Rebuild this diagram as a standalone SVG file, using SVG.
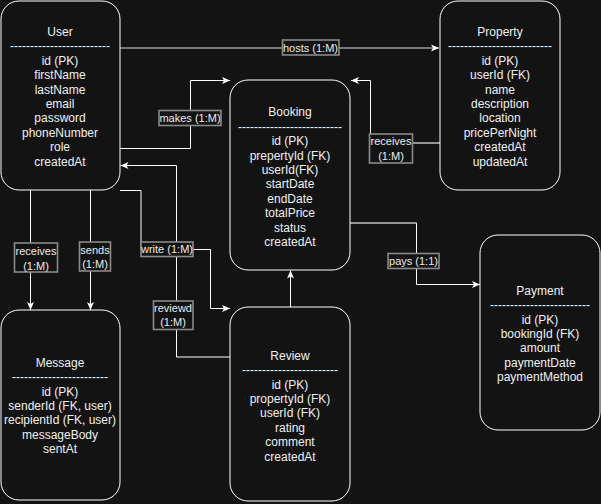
<svg xmlns="http://www.w3.org/2000/svg" width="601" height="504" viewBox="0 0 601 504">
<defs>
<style>
.node rect{fill:#131313;stroke:#ffffff;stroke-width:1}
.node text{font-family:"Liberation Sans",Arial,sans-serif;font-size:12px;fill:#f0f0f0;text-anchor:middle}
.edge{fill:none;stroke:#ffffff;stroke-width:1}
.edge.gray{stroke:#9a9a9a;stroke-width:1.6}
.lbl rect{fill:#131313;stroke:#8a8a8a;stroke-width:1.6}
.lbl text{font-family:"Liberation Sans",Arial,sans-serif;font-size:11px;fill:#ececec;text-anchor:middle}
</style>
<marker id="arr" markerWidth="10" markerHeight="10" refX="9" refY="5" orient="auto" markerUnits="userSpaceOnUse">
<path d="M1,1.5 L9,5 L1,8.5 L3,5 z" fill="#ffffff"/>
</marker>
</defs>
<rect width="601" height="504" fill="#131313"/>

<g id="connectors">
<path class="edge gray" d="M120,48 H439" marker-end="url(#arr)"/>
<path class="edge" d="M120,148.5 H190.5 V80.5 H230" marker-end="url(#arr)"/>
<path class="edge" d="M440,143 H370.5 V80.5 H351" marker-end="url(#arr)"/>
<path class="edge gray" d="M440,143 H371"/>
<path class="edge" d="M350,223 H416.5 V284.5 H480" marker-end="url(#arr)"/>
<path class="edge gray" d="M350,223 H416.5"/>
<path class="edge" d="M230,357 H176.5 V165.5 H120.5" marker-end="url(#arr)"/>
<path class="edge" d="M120,190.5 H141 V249.5 H210.5 V308.5 H230" marker-end="url(#arr)"/>
<path class="edge" d="M30.5,190 V310" marker-end="url(#arr)"/>
<path class="edge" d="M90.5,190 V310" marker-end="url(#arr)"/>
<path class="edge" d="M290.5,307 V270.5" marker-end="url(#arr)"/>

<g class="lbl"><rect x="282.5" y="40" width="56.5" height="15"/><text x="310.5" y="51.5">hosts (1:M)</text></g>
<g class="lbl"><rect x="159" y="110.5" width="62" height="15"/><text x="190" y="122">makes (1:M)</text></g>
<g class="lbl"><rect x="369.5" y="134" width="43" height="29"/><text x="391" y="145">receives</text><text x="391" y="159.5">(1:M)</text></g>
<g class="lbl"><rect x="388" y="253.5" width="51" height="15"/><text x="413.5" y="265">pays (1:1)</text></g>
<g class="lbl"><rect x="14.5" y="243" width="43" height="29"/><text x="36" y="255">receives</text><text x="36" y="269.5">(1:M)</text></g>
<g class="lbl"><rect x="79.5" y="242" width="31" height="29"/><text x="95" y="254">sends</text><text x="95" y="268">(1:M)</text></g>
<g class="lbl"><rect x="141" y="242" width="52" height="14.5"/><text x="167" y="253">write (1:M)</text></g>
<g class="lbl"><rect x="153.5" y="301" width="39.5" height="28.5"/><text x="173" y="312">reviewd</text><text x="173" y="326">(1:M)</text></g>
</g>

<g id="node-user" class="node">
<rect x="1" y="1" width="119" height="189" rx="18" ry="18"/>
<text x="60" y="36"><tspan x="60">User</tspan><tspan x="60" dy="14.4">-------------------------</tspan><tspan x="60" dy="14.4">id (PK)</tspan><tspan x="60" dy="14.4">firstName</tspan><tspan x="60" dy="14.4">lastName</tspan><tspan x="60" dy="14.4">email</tspan><tspan x="60" dy="14.4">password</tspan><tspan x="60" dy="14.4">phoneNumber</tspan><tspan x="60" dy="14.4">role</tspan><tspan x="60" dy="14.4">createdAt</tspan></text>
</g>

<g id="node-property" class="node">
<rect x="440" y="1" width="120" height="189" rx="18" ry="18"/>
<text x="500" y="36"><tspan x="500">Property</tspan><tspan x="500" dy="14.4">--------------------------</tspan><tspan x="500" dy="14.4">id (PK)</tspan><tspan x="500" dy="14.4">userId (FK)</tspan><tspan x="500" dy="14.4">name</tspan><tspan x="500" dy="14.4">description</tspan><tspan x="500" dy="14.4">location</tspan><tspan x="500" dy="14.4">pricePerNight</tspan><tspan x="500" dy="14.4">createdAt</tspan><tspan x="500" dy="14.4">updatedAt</tspan></text>
</g>

<g id="node-booking" class="node">
<rect x="230" y="80" width="120" height="190" rx="18" ry="18"/>
<text x="290" y="116.3"><tspan x="290">Booking</tspan><tspan x="290" dy="14.4">--------------------------</tspan><tspan x="290" dy="14.4">id (PK)</tspan><tspan x="290" dy="14.4">prepertyId (FK)</tspan><tspan x="290" dy="14.4">userId(FK)</tspan><tspan x="290" dy="14.4">startDate</tspan><tspan x="290" dy="14.4">endDate</tspan><tspan x="290" dy="14.4">totalPrice</tspan><tspan x="290" dy="14.4">status</tspan><tspan x="290" dy="14.4">createdAt</tspan></text>
</g>

<g id="node-payment" class="node">
<rect x="480" y="235" width="120" height="195" rx="18" ry="18"/>
<text x="540" y="294.7"><tspan x="540">Payment</tspan><tspan x="540" dy="14.4">-------------------------</tspan><tspan x="540" dy="14.4">id (PK)</tspan><tspan x="540" dy="14.4">bookingId (FK)</tspan><tspan x="540" dy="14.4">amount</tspan><tspan x="540" dy="14.4">paymentDate</tspan><tspan x="540" dy="14.4">paymentMethod</tspan></text>
</g>

<g id="node-message" class="node">
<rect x="1" y="310" width="119" height="190" rx="18" ry="18"/>
<text x="60" y="366.7"><tspan x="60">Message</tspan><tspan x="60" dy="14.4">------------------------</tspan><tspan x="60" dy="14.4">id (PK)</tspan><tspan x="60" dy="14.4">senderId (FK, user)</tspan><tspan x="60" dy="14.4">recipientId (FK, user)</tspan><tspan x="60" dy="14.4">messageBody</tspan><tspan x="60" dy="14.4">sentAt</tspan></text>
</g>

<g id="node-review" class="node">
<rect x="230" y="307" width="120" height="194" rx="18" ry="18"/>
<text x="290" y="359.7"><tspan x="290">Review</tspan><tspan x="290" dy="14.4">------------------------</tspan><tspan x="290" dy="14.4">id (PK)</tspan><tspan x="290" dy="14.4">propertyId (FK)</tspan><tspan x="290" dy="14.4">userId (FK)</tspan><tspan x="290" dy="14.4">rating</tspan><tspan x="290" dy="14.4">comment</tspan><tspan x="290" dy="14.4">createdAt</tspan></text>
</g>
</svg>
